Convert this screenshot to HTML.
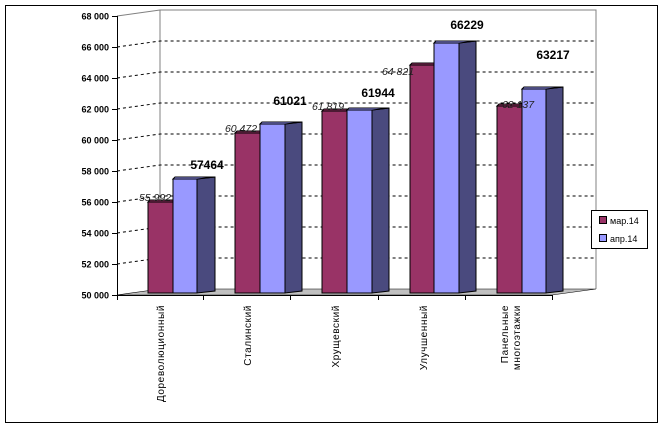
<!DOCTYPE html>
<html><head><meta charset="utf-8"><style>
html,body{margin:0;padding:0;background:#fff;}
svg{display:block;font-family:"Liberation Sans",sans-serif;}
</style></head><body>
<svg width="665" height="427" viewBox="0 0 665 427" xmlns="http://www.w3.org/2000/svg">
<rect x="5.5" y="5.5" width="652" height="417" fill="#fff" stroke="#000" stroke-width="1"/>
<polyline points="160,290 160,10 596,10 596,289" fill="none" stroke="#808080" stroke-width="1"/>
<line x1="117" y1="16" x2="160" y2="10" stroke="#808080"/>
<polygon points="117,295 160,289 596,289 552,295" fill="#c0c0c0" stroke="#000" stroke-width="0.6"/>
<line x1="117" y1="295.5" x2="552" y2="295.5" stroke="#000"/>
<g stroke="#000" stroke-dasharray="3,3" stroke-width="1" fill="none">
<path d="M117,47 L160,41 L596,41"/>
<path d="M117,78 L160,72 L596,72"/>
<path d="M117,109 L160,103 L596,103"/>
<path d="M117,140 L160,134 L596,134"/>
<path d="M117,171 L160,165 L596,165"/>
<path d="M117,202 L160,196 L596,196"/>
<path d="M117,233 L160,227 L596,227"/>
<path d="M117,264 L160,258 L596,258"/>
</g>
<line x1="117.5" y1="16" x2="117.5" y2="300" stroke="#000"/>
<g stroke="#000">
<line x1="112" y1="16.5" x2="117" y2="16.5"/><line x1="112" y1="47.5" x2="117" y2="47.5"/>
<line x1="112" y1="78.5" x2="117" y2="78.5"/><line x1="112" y1="109.5" x2="117" y2="109.5"/>
<line x1="112" y1="140.5" x2="117" y2="140.5"/><line x1="112" y1="171.5" x2="117" y2="171.5"/>
<line x1="112" y1="202.5" x2="117" y2="202.5"/><line x1="112" y1="233.5" x2="117" y2="233.5"/>
<line x1="112" y1="264.5" x2="117" y2="264.5"/><line x1="112" y1="295.5" x2="117" y2="295.5"/>
<line x1="203.5" y1="295" x2="203.5" y2="300"/><line x1="290.5" y1="295" x2="290.5" y2="300"/>
<line x1="378.5" y1="295" x2="378.5" y2="300"/><line x1="465.5" y1="295" x2="465.5" y2="300"/>
<line x1="552.5" y1="295" x2="552.5" y2="300"/>
</g>
<g font-size="9" font-weight="bold" text-anchor="end" fill="#000">
<text x="109" y="19.5">68 000</text><text x="109" y="50.5">66 000</text>
<text x="109" y="81.5">64 000</text><text x="109" y="112.5">62 000</text>
<text x="109" y="143.5">60 000</text><text x="109" y="174.5">58 000</text>
<text x="109" y="205.5">56 000</text><text x="109" y="236.5">54 000</text>
<text x="109" y="267.5">52 000</text><text x="109" y="298.5">50 000</text>
</g>
<g stroke="#000" stroke-width="1">
<rect x="148" y="202" width="25" height="91" fill="#993366"/>
<polygon points="148,202 150,200 175,200 173,202" fill="#993366"/>
<rect x="173" y="179" width="24" height="114" fill="#9999ff"/>
<polygon points="197,179 215,177 215,291 197,293" fill="#4a4a7e"/>
<polygon points="173,179 175,177 215,177 197,179" fill="#9999ff"/>
<rect x="235" y="133" width="25" height="160" fill="#993366"/>
<polygon points="235,133 237,131 262,131 260,133" fill="#993366"/>
<rect x="260" y="124" width="25" height="169" fill="#9999ff"/>
<polygon points="285,124 302,122 302,291 285,293" fill="#4a4a7e"/>
<polygon points="260,124 262,122 302,122 285,124" fill="#9999ff"/>
<rect x="322" y="111" width="25" height="182" fill="#993366"/>
<polygon points="322,111 324,109 349,109 347,111" fill="#993366"/>
<rect x="347" y="110" width="25" height="183" fill="#9999ff"/>
<polygon points="372,110 389,108 389,291 372,293" fill="#4a4a7e"/>
<polygon points="347,110 349,108 389,108 372,110" fill="#9999ff"/>
<rect x="410" y="65" width="24" height="228" fill="#993366"/>
<polygon points="410,65 412,63 436,63 434,65" fill="#993366"/>
<rect x="434" y="43" width="25" height="250" fill="#9999ff"/>
<polygon points="459,43 476,41 476,291 459,293" fill="#4a4a7e"/>
<polygon points="434,43 436,41 476,41 459,43" fill="#9999ff"/>
<rect x="497" y="106" width="25" height="187" fill="#993366"/>
<polygon points="497,106 499,104 524,104 522,106" fill="#993366"/>
<rect x="522" y="89" width="24" height="204" fill="#9999ff"/>
<polygon points="546,89 563,87 563,291 546,293" fill="#4a4a7e"/>
<polygon points="522,89 524,87 563,87 546,89" fill="#9999ff"/>
</g>
<g font-size="10.5" font-style="italic" fill="#222" text-anchor="middle">
<text x="155" y="201">55 992</text><text x="241" y="132">60 472</text>
<text x="328" y="110">61 819</text><text x="398" y="75">64 821</text>
<text x="518" y="108">62 137</text>
</g>
<g font-size="12" font-weight="bold" fill="#000" text-anchor="middle">
<text x="207" y="169">57464</text><text x="290" y="105">61021</text>
<text x="378" y="97">61944</text><text x="467" y="29">66229</text>
<text x="553" y="59">63217</text>
</g>
<g font-size="10" fill="#000" text-anchor="end" letter-spacing="0.6">
<text transform="translate(164,305) rotate(-90)">Дореволюционный</text>
<text transform="translate(251,305) rotate(-90)">Сталинский</text>
<text transform="translate(339,305) rotate(-90)">Хрущевский</text>
<text transform="translate(427,305) rotate(-90)">Улучшенный</text>
<text transform="translate(508,305) rotate(-90)">Панельные</text>
<text transform="translate(520,305) rotate(-90)">многоэтажки</text>
</g>
<rect x="591.5" y="210.5" width="56" height="38" fill="#fff" stroke="#000"/>
<rect x="599.5" y="216.5" width="7" height="7" fill="#993366" stroke="#000"/>
<rect x="599.5" y="234.5" width="7" height="7" fill="#9999ff" stroke="#000"/>
<text x="610" y="224" font-size="9" fill="#000">мар.14</text>
<text x="610" y="242" font-size="9" fill="#000">апр.14</text>
</svg>
</body></html>
